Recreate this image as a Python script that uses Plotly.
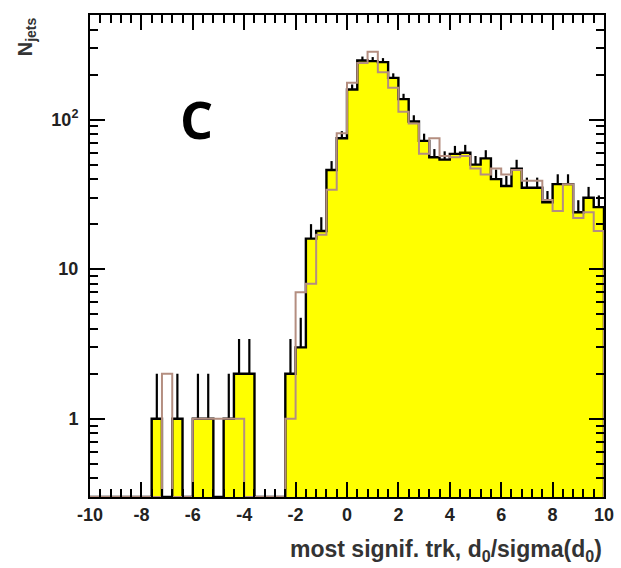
import numpy as np
import plotly.graph_objects as go

# bin edges: 50 bins of width 0.4 from -10 to 10
x_min, x_max, n_bins = -10.0, 10.0, 50
edges = np.linspace(x_min, x_max, n_bins + 1)
centers = 0.5 * (edges[:-1] + edges[1:])

# data (yellow, black outline, with sqrt(N) errors)
data_counts = [0, 0, 0, 0, 0, 0, 1, 0, 1, 0,
               1, 1, 0, 1, 2, 2, 0, 0, 0, 2,
               3, 16, 18, 46, 75, 159, 248, 246, 242, 190,
               137, 97, 72, 56, 54, 59, 60, 50, 55, 40,
               36, 47, 35, 35, 28, 37, 37, 24, 30, 26]
# simulation (brown outline)
mc_counts = [0, 0, 0, 0, 0, 0, 0, 2, 0, 0,
             1, 1, 1, 1, 1, 0, 0, 0, 0, 1,
             7, 8, 17, 34, 81, 176, 239, 284, 207, 163,
             113, 94, 59, 75, 57, 56, 57, 47, 43, 47,
             43, 46, 39, 39, 29, 24.5, 37, 22, 24, 18]

y_floor = 0.3
y_top = 500

x_ticks = [-10, -8, -6, -4, -2, 0, 2, 4, 6, 8, 10]
x_ticktext = [str(v) for v in x_ticks]
y_ticks = [1, 10, 100]
y_ticktext = ["1", "10", "10<sup>2</sup>"]
y_minor = [0.3, 0.4, 0.5, 0.6, 0.7, 0.8, 0.9, 2, 3, 4, 5, 6, 7, 8, 9,
           20, 30, 40, 50, 60, 70, 80, 90, 200, 300, 400, 500]


def step_path(counts):
    vals = [c if c > 0 else y_floor for c in counts]
    xs = [x_min] + list(edges[:-1]) + [x_max, x_max]
    ys = [y_floor] + vals + [vals[-1], y_floor]
    return xs, ys


fig = go.Figure()

dx, dy = step_path(data_counts)
fig.add_trace(go.Scatter(x=dx, y=dy, mode="lines", line=dict(shape="hv", width=0),
                         fill="toself", fillcolor="#ffff00", hoverinfo="skip",
                         showlegend=False))
fig.add_trace(go.Scatter(x=dx, y=dy, mode="lines",
                         line=dict(shape="hv", width=2.4, color="black"),
                         showlegend=False))

data_arr = np.array(data_counts, dtype=float)
mask = data_arr > 0
fig.add_trace(go.Scatter(x=centers[mask], y=data_arr[mask], mode="markers",
                         marker=dict(size=1, opacity=0),
                         error_y=dict(type="data", symmetric=False,
                                      array=np.sqrt(data_arr[mask]),
                                      arrayminus=np.zeros(mask.sum()),
                                      width=0, thickness=2.2, color="black"),
                         showlegend=False))

mx, my = step_path(mc_counts)
fig.add_trace(go.Scatter(x=mx, y=my, mode="lines",
                         line=dict(shape="hv", width=2, color="#b48e80"),
                         showlegend=False))

tick_font = dict(family="Liberation Sans", size=18, color="#222", weight="bold")

fig.update_layout(
    width=621, height=568,
    margin=dict(l=90, r=17, t=15, b=71),
    paper_bgcolor="white", plot_bgcolor="white",
    xaxis=dict(range=[x_min, x_max], tickmode="array", tickvals=x_ticks,
               ticktext=x_ticktext, automargin=False,
               ticks="inside", ticklen=15, tickwidth=1.8, tickcolor="black",
               showline=True, linewidth=2, linecolor="black", mirror="allticks",
               showgrid=False, zeroline=False, tickfont=tick_font,
               minor=dict(ticks="inside", ticklen=8, tickwidth=1.5,
                          tickcolor="black", dtick=0.4, tick0=0, showgrid=False)),
    yaxis=dict(type="log", range=[np.log10(y_floor), np.log10(y_top)],
               tickmode="array", tickvals=y_ticks, ticktext=y_ticktext,
               automargin=False,
               ticks="inside", ticklen=15, tickwidth=1.8, tickcolor="black",
               showline=True, linewidth=2, linecolor="black", mirror="allticks",
               showgrid=False, zeroline=False, tickfont=tick_font,
               ticklabelstandoff=6,
               minor=dict(ticks="inside", ticklen=8, tickwidth=1.5,
                          tickcolor="black", tickmode="array", tickvals=y_minor,
                          showgrid=False)),
    annotations=[
        dict(text="C", x=0.172, y=0.864, xref="paper", yref="paper",
             showarrow=False, font=dict(family="Open Sans", size=52,
                                        color="black", weight="bold")),
        dict(text="most signif. trk, d<sub>0</sub>/sigma(d<sub>0</sub>)",
             x=1.0, y=-0.076, xref="paper", yref="paper", xanchor="right",
             yanchor="top", showarrow=False,
             font=dict(family="Liberation Sans", size=23, color="#333",
                       weight="bold")),
        dict(text="N<sub>jets</sub>", x=-0.123, y=1.0, xref="paper",
             yref="paper", xanchor="center", yanchor="top", textangle=-90,
             showarrow=False,
             font=dict(family="Liberation Sans", size=20, color="#333",
                       weight="bold")),
    ],
)

fig.write_html("out.html")
